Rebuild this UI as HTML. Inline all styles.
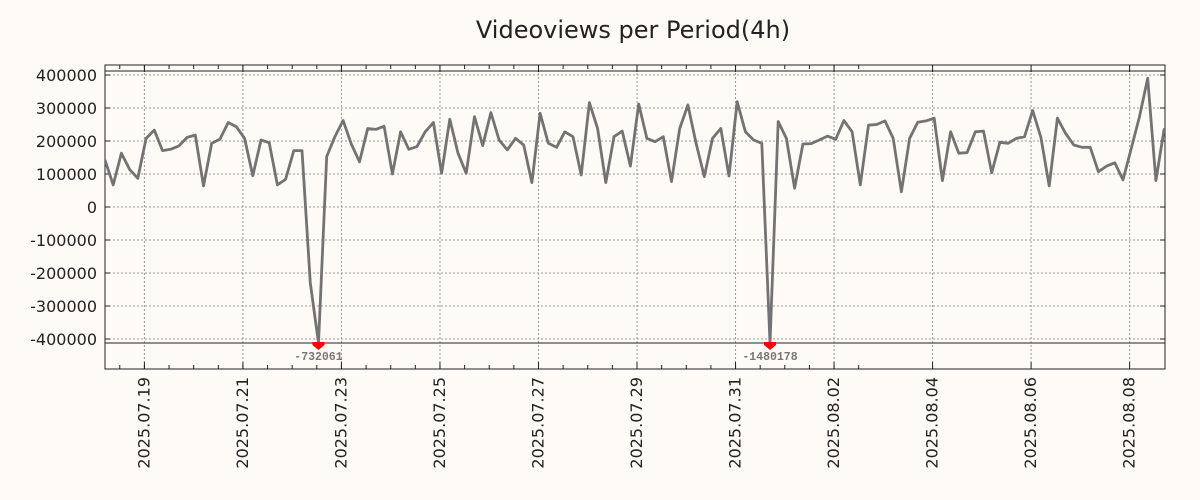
<!DOCTYPE html>
<html><head><meta charset="utf-8"><style>
html,body{margin:0;padding:0;background:#fefaf6;}
svg{display:block;font-family:"DejaVu Sans","Liberation Sans",sans-serif;}
</style></head><body>
<svg id="chart" width="1200" height="500" viewBox="0 0 1200 500" xmlns="http://www.w3.org/2000/svg">
<defs><clipPath id="plotclip"><rect x="105" y="65" width="1060" height="304"/></clipPath></defs>
<rect x="0" y="0" width="1200" height="500" fill="#fefaf6"/>
<text x="633" y="38" text-anchor="middle" font-size="24" fill="#222">Videoviews per Period(4h)</text>
<g id="grid"></g>
<g id="axes"></g>
<g id="series" clip-path="url(#plotclip)"></g>
<g id="marks"></g>
</svg>
<script>
const yTicks = [400000,300000,200000,100000,0,-100000,-200000,-300000,-400000];
const dateLabels = ["2025.07.19","2025.07.21","2025.07.23","2025.07.25","2025.07.27","2025.07.29","2025.07.31","2025.08.02","2025.08.04","2025.08.06","2025.08.08"];
const views = [142000,67000,163000,114000,87000,208000,233000,171000,175000,185000,211000,218000,64000,193000,205000,256000,243000,208000,95000,203000,195000,67000,84000,171000,171000,-230000,-732061,153000,213000,262000,191000,137000,238000,235000,245000,100000,228000,175000,183000,228000,256000,102000,266000,163000,102000,274000,186000,286000,203000,173000,208000,188000,74000,284000,193000,181000,228000,213000,97000,316000,238000,74000,213000,230000,124000,312000,208000,198000,213000,77000,238000,309000,193000,92000,208000,238000,94000,319000,228000,203000,193000,-1480178,259000,208000,57000,191000,192000,203000,215000,205000,262000,228000,67000,248000,250000,261000,208000,46000,208000,257000,261000,269000,80000,228000,163000,165000,228000,230000,104000,196000,193000,208000,213000,292000,211000,64000,269000,223000,188000,181000,181000,107000,124000,134000,82000,178000,274000,390000,80000,235000,225000];

const NS="http://www.w3.org/2000/svg";
const L=105,R=1165,T=65,B=369;
const clipHi=412000, clipLo=-412000;
function yPos(v){return 207 - v*33/100000;}
const firstDateIdx = 4.8;
const periodPx = 8.21;
function xPos(i){return L + i*periodPx;}
function mk(tag,attrs,parent){const e=document.createElementNS(NS,tag);for(const k in attrs)e.setAttribute(k,attrs[k]);parent.appendChild(e);return e;}
const grid=document.getElementById('grid'),axes=document.getElementById('axes'),series=document.getElementById('series'),marks=document.getElementById('marks');

yTicks.forEach(v=>{
  const y=yPos(v);
  const g=mk('line',{x1:L,x2:R,y1:y,y2:y,stroke:'#999','stroke-dasharray':'2,2','stroke-width':1},grid);
  
  
  const t=mk('line',{x1:L,x2:L+5,y1:y,y2:y,stroke:'#222'},axes);
  
  
  const t2=mk('line',{x1:R-5,x2:R,y1:y,y2:y,stroke:'#222'},axes);
  
  
  const lb=mk('text',{x:97,y:y+6,'text-anchor':'end','font-size':16,fill:'#222'},axes);
  lb.textContent=v;
  
  
});
for(let k=-1;k<30;k++){
  const x=xPos(firstDateIdx + k*3);
  if(x<L||x>R)continue;
  const a=mk('line',{x1:x,x2:x,y1:B,y2:B-4,stroke:'#222'},axes);
  
  
  const b=mk('line',{x1:x,x2:x,y1:T,y2:T+4,stroke:'#222'},axes);
  
  
}
dateLabels.forEach((d,k)=>{
  const x=xPos(firstDateIdx + k*12);
  const g=mk('line',{x1:x,x2:x,y1:T,y2:B,stroke:'#999','stroke-dasharray':'2,2'},grid);
  
  
  const a=mk('line',{x1:x,x2:x,y1:B,y2:B-7,stroke:'#222'},axes);
  
  
  const b=mk('line',{x1:x,x2:x,y1:T,y2:T+7,stroke:'#222'},axes);
  
  
  const t=mk('text',{x:0,y:0,'text-anchor':'end','font-size':16,fill:'#222',transform:`translate(${x+5},377) rotate(-90)`},axes);
  t.textContent=d;
  
  
});
const fr=mk('rect',{x:L,y:T,width:R-L,height:B-T,fill:'none',stroke:'#222','stroke-width':1},axes);


[clipHi,clipLo].forEach(v=>{
  const l=mk('line',{x1:L,x2:R,y1:yPos(v),y2:yPos(v),stroke:'#222'},axes);
  
  
});
const pts=views.map((v,i)=>xPos(i).toFixed(1)+','+yPos(Math.max(clipLo,Math.min(clipHi,v))).toFixed(1)).join(' ');
const pl=mk('polyline',{points:pts,fill:'none',stroke:'#737373','stroke-width':2.8,'stroke-linejoin':'round'},series);


views.forEach((v,i)=>{
  if(v<clipLo){
    const x=xPos(i),y=yPos(clipLo);
    const m=mk('polygon',{points:`${x-6},${y-1} ${x+6},${y-1} ${x+6},${y+2} ${x},${y+7} ${x-6},${y+2}`,fill:'#f00'},marks);
    
    
    const t=mk('text',{x:x,y:y+17,'text-anchor':'middle','font-size':11.5,'font-family':'Liberation Mono, monospace','font-weight':'bold',fill:'#777'},marks);
    t.textContent=v;
    
    
  }
});
</script>
</body></html>
